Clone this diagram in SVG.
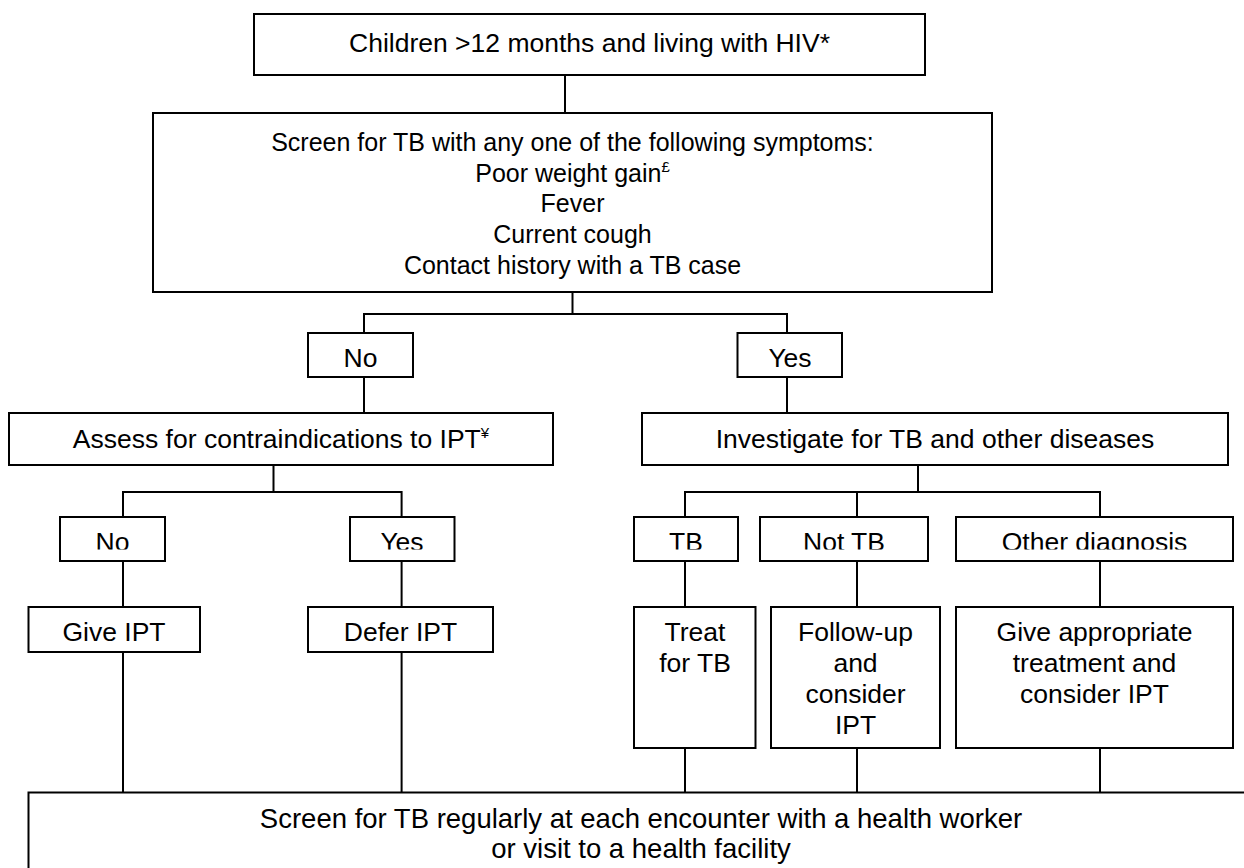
<svg xmlns="http://www.w3.org/2000/svg" width="1244" height="868" viewBox="0 0 1244 868">
<defs>
<style>
.box{fill:#fff;stroke:#000;stroke-width:2}
.t{font-family:"Liberation Sans",Arial,sans-serif;font-size:26.5px;fill:#000;text-anchor:middle}
.m{font-size:25px}
.b{font-size:27.5px}
.c{fill:none;stroke:#000;stroke-width:2}
</style>
<clipPath id="row2clip"><rect x="0" y="0" width="1244" height="549.5"/></clipPath>
</defs>
<rect width="1244" height="868" fill="#fff"/>
<g id="connectors" class="c">
<path d="M565 75V113"/>
<path d="M572.5 292V314"/>
<path d="M364 333V314H787V333"/>
<path d="M364 377V413"/>
<path d="M787 377V413"/>
<path d="M273.5 465V492"/>
<path d="M123 517V492H401.6V517"/>
<path d="M123 561V607"/>
<path d="M401.6 561V607"/>
<path d="M123 652V792.5"/>
<path d="M401.6 652V792.5"/>
<path d="M918 465V492"/>
<path d="M685 517V492H1100V517"/>
<path d="M857 492V517"/>
<path d="M685 561V607"/>
<path d="M857 561V607"/>
<path d="M1100 561V607"/>
<path d="M685 748V792.5"/>
<path d="M857 748V792.5"/>
<path d="M1100 748V792.5"/>
</g>
<g id="top">
<rect class="box" x="254" y="14" width="671" height="61"/>
<text class="t" x="589.5" y="52">Children &gt;12 months and living with HIV*</text>
</g>
<g id="screen">
<rect class="box" x="153" y="113" width="839" height="179"/>
<text class="t m" x="572.5" y="151">Screen for TB with any one of the following symptoms:</text>
<text class="t m" x="572.5" y="181.7">Poor weight gain<tspan font-size="15" dy="-10">£</tspan></text>
<text class="t m" x="572.5" y="212.4">Fever</text>
<text class="t m" x="572.5" y="243.1">Current cough</text>
<text class="t m" x="572.5" y="273.8">Contact history with a TB case</text>
</g>
<g id="no1">
<rect class="box" x="308" y="333" width="105" height="44"/>
<text class="t" x="360.5" y="367">No</text>
</g>
<g id="yes1">
<rect class="box" x="737.5" y="333" width="104.5" height="44"/>
<text class="t" x="790" y="367">Yes</text>
</g>
<g id="assess">
<rect class="box" x="9" y="413" width="544" height="52"/>
<text class="t" x="281" y="448">Assess for contraindications to IPT<tspan font-size="15" dy="-10">¥</tspan></text>
</g>
<g id="investigate">
<rect class="box" x="642" y="413" width="586" height="52"/>
<text class="t" x="935" y="448">Investigate for TB and other diseases</text>
</g>
<g id="no2">
<rect class="box" x="60" y="517" width="105" height="44"/>
<text class="t" x="112.5" y="551" clip-path="url(#row2clip)">No</text>
</g>
<g id="yes2">
<rect class="box" x="350" y="517" width="104.5" height="44"/>
<text class="t" x="402" y="551" clip-path="url(#row2clip)">Yes</text>
</g>
<g id="tb">
<rect class="box" x="634" y="517" width="104" height="44"/>
<text class="t" x="686" y="551" clip-path="url(#row2clip)">TB</text>
</g>
<g id="nottb">
<rect class="box" x="760" y="517" width="168" height="44"/>
<text class="t" x="844" y="551" clip-path="url(#row2clip)">Not TB</text>
</g>
<g id="other">
<rect class="box" x="956" y="517" width="277" height="44"/>
<text class="t" x="1094.5" y="551" clip-path="url(#row2clip)">Other diagnosis</text>
</g>
<g id="giveipt">
<rect class="box" x="28.5" y="607" width="171.5" height="45"/>
<text class="t" x="114" y="641">Give IPT</text>
</g>
<g id="defeript">
<rect class="box" x="308" y="607" width="185" height="45"/>
<text class="t" x="400.5" y="641">Defer IPT</text>
</g>
<g id="treat">
<rect class="box" x="634" y="607" width="121.5" height="141"/>
<text class="t" x="695" y="641">Treat</text>
<text class="t" x="695" y="672">for TB</text>
</g>
<g id="followup">
<rect class="box" x="771" y="607" width="169" height="141"/>
<text class="t" x="855.5" y="641">Follow-up</text>
<text class="t" x="855.5" y="672">and</text>
<text class="t" x="855.5" y="703">consider</text>
<text class="t" x="855.5" y="734">IPT</text>
</g>
<g id="giveapp">
<rect class="box" x="956" y="607" width="277" height="141"/>
<text class="t" x="1094.5" y="641">Give appropriate</text>
<text class="t" x="1094.5" y="672">treatment and</text>
<text class="t" x="1094.5" y="703">consider IPT</text>
</g>
<g id="bottom">
<rect class="box" x="28.5" y="792.5" width="1226" height="100"/>
<text class="t b" x="641" y="828">Screen for TB regularly at each encounter with a health worker</text>
<text class="t b" x="641" y="858">or visit to a health facility</text>
</g>
</svg>
